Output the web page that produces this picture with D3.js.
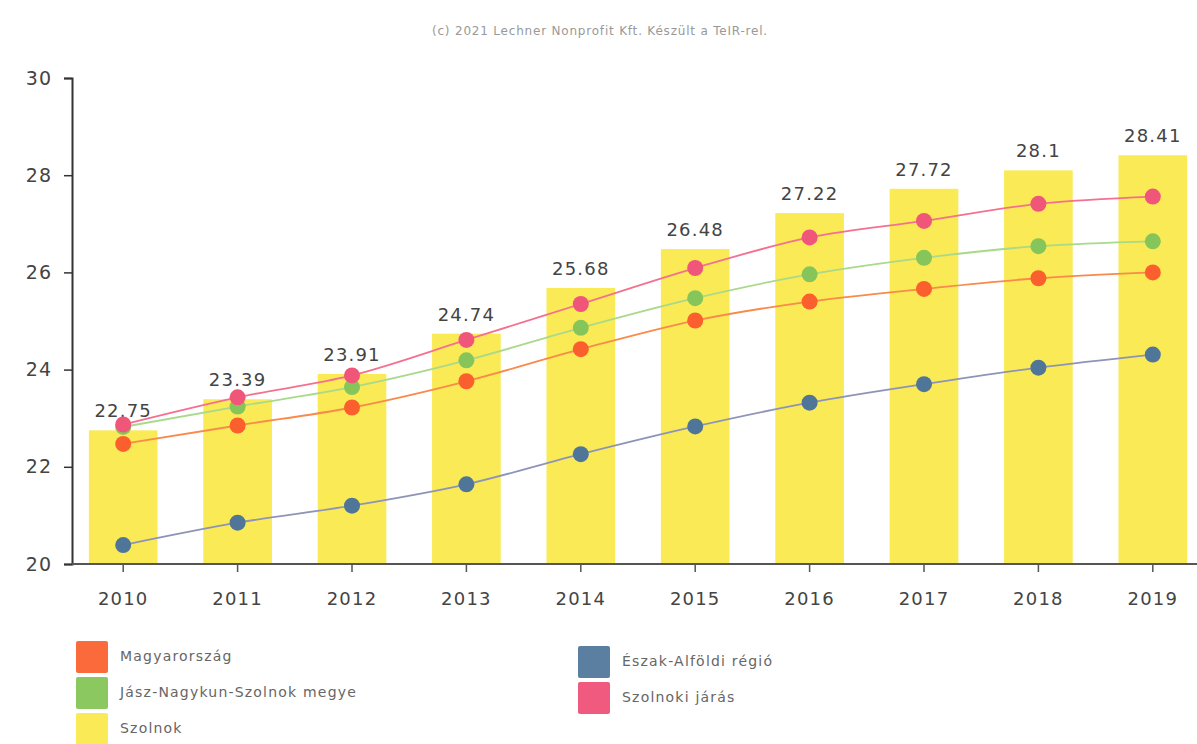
<!DOCTYPE html>
<html>
<head>
<meta charset="utf-8">
<script src="https://cdn.jsdelivr.net/npm/d3@7"></script>
<style>
  body { margin: 0; background: #fff; }
  text { font-family: "DejaVu Sans", Verdana, sans-serif; }
</style>
</head>
<body>
<svg id="chart"></svg>
<script>
const years = ["2010", "2011", "2012", "2013", "2014", "2015", "2016", "2017", "2018", "2019"];

// bars: Szolnok
const szolnok = [22.75, 23.39, 23.91, 24.74, 25.68, 26.48, 27.22, 27.72, 28.1, 28.41];

// lines
const magyarorszag = [22.47, 22.85, 23.22, 23.76, 24.42, 25.01, 25.40, 25.66, 25.88, 26.00];
const jnszMegye = [22.82, 23.24, 23.64, 24.19, 24.86, 25.47, 25.96, 26.30, 26.54, 26.64];
const eszakAlfoldi = [20.39, 20.85, 21.20, 21.64, 22.26, 22.83, 23.32, 23.70, 24.04, 24.31];
const szolnokiJaras = [22.87, 23.43, 23.88, 24.61, 25.35, 26.09, 26.72, 27.06, 27.41, 27.56];

const yTicks = [20, 22, 24, 26, 28, 30];

const width = 1197, height = 744;

const svg = d3.select("#chart")
  .attr("width", width)
  .attr("height", height);

// caption at the top
svg.append("text")
  .attr("x", 600)
  .attr("y", 35)
  .attr("text-anchor", "middle")
  .attr("font-size", 12)
  .attr("letter-spacing", 0.8)
  .attr("fill", "#999")
  .text("(c) 2021 Lechner Nonprofit Kft. Készült a TeIR-rel.");

// scales
const x = d3.scaleBand()
  .domain(years)
  .range([66, 1210])
  .paddingInner(0.4)
  .paddingOuter(0.2);

const y = d3.scaleLinear()
  .domain([20, 30])
  .range([564, 78]);

// bars
svg.append("g")
  .selectAll("rect")
  .data(szolnok)
  .join("rect")
  .attr("x", (d, i) => x(years[i]))
  .attr("y", d => y(d))
  .attr("width", x.bandwidth())
  .attr("height", d => y(20) - y(d))
  .attr("fill", "#faea55");

// bar value labels
svg.append("g")
  .selectAll("text")
  .data(szolnok)
  .join("text")
  .attr("x", (d, i) => x(years[i]) + x.bandwidth() / 2)
  .attr("y", d => y(d) - 13)
  .attr("text-anchor", "middle")
  .attr("font-size", 18)
  .attr("letter-spacing", 1.2)
  .attr("fill", "#444")
  .text(d => d);

// lines with dots
const line = d3.line()
  .x((d, i) => x(years[i]) + x.bandwidth() / 2)
  .y(d => y(d))
  .curve(d3.curveMonotoneX);

const series = [
  { values: eszakAlfoldi, color: "#4f7599", lineColor: "#8e94b8" },
  { values: magyarorszag, color: "#fb5f2e", lineColor: "#f98a4a" },
  { values: jnszMegye, color: "#86c55a", lineColor: "#a9d98a" },
  { values: szolnokiJaras, color: "#f0557a", lineColor: "#f5708f" }
];

series.forEach(function (s) {
  svg.append("path")
    .datum(s.values)
    .attr("fill", "none")
    .attr("stroke", s.lineColor)
    .attr("stroke-width", 1.8)
    .attr("d", line);

  svg.append("g")
    .selectAll("circle")
    .data(s.values)
    .join("circle")
    .attr("cx", (d, i) => x(years[i]) + x.bandwidth() / 2)
    .attr("cy", d => y(d))
    .attr("r", 8)
    .attr("fill", s.color);
});

// Y axis
const yAxis = svg.append("g")
  .attr("transform", "translate(72,0)")
  .call(d3.axisLeft(y).tickValues(yTicks).tickSize(8).tickPadding(12));
yAxis.select(".domain").attr("stroke", "#333").attr("stroke-width", 2);
yAxis.selectAll(".tick line").attr("stroke", "#333").attr("stroke-width", 1.5);
yAxis.selectAll(".tick text")
  .attr("font-size", 19)
  .attr("fill", "#444")
  .attr("letter-spacing", 1)
  .attr("font-family", "DejaVu Sans, Verdana, sans-serif");

// X axis
const xAxis = svg.append("g")
  .attr("transform", "translate(0," + y(20) + ")")
  .call(d3.axisBottom(x).tickSize(8).tickPadding(20).tickSizeOuter(0));
xAxis.select(".domain")
  .attr("stroke", "#555")
  .attr("stroke-width", 2)
  .attr("d", "M72,0H1197");
xAxis.selectAll(".tick line").attr("stroke", "#555").attr("stroke-width", 1.5);
xAxis.selectAll(".tick text")
  .attr("font-size", 18)
  .attr("fill", "#444")
  .attr("letter-spacing", 1.2)
  .attr("font-family", "DejaVu Sans, Verdana, sans-serif");

// legend
const legendItems = [
  { name: "Magyarország", color: "#fb6a3a", col: 0, row: 0 },
  { name: "Jász-Nagykun-Szolnok megye", color: "#8cc860", col: 0, row: 1 },
  { name: "Szolnok", color: "#faea55", col: 0, row: 2 },
  { name: "Észak-Alföldi régió", color: "#5a7fa0", col: 1, row: 0 },
  { name: "Szolnoki járás", color: "#f05a7e", col: 1, row: 1 }
];

const legend = svg.append("g")
  .selectAll("g")
  .data(legendItems)
  .join("g")
  .attr("transform", d => "translate(" + (d.col === 0 ? 76 : 578) + "," + (641 + d.row * 36 + d.col * 5) + ")");

legend.append("rect")
  .attr("width", 32)
  .attr("height", 32)
  .attr("rx", 2)
  .attr("fill", d => d.color);

legend.append("text")
  .attr("x", 44)
  .attr("y", 20)
  .attr("font-size", 14)
  .attr("letter-spacing", 1.2)
  .attr("fill", "#666")
  .text(d => d.name);
</script>
</body>
</html>
